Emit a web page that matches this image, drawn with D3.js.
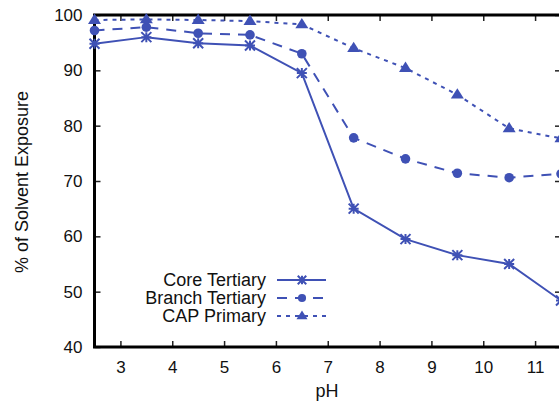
<!DOCTYPE html>
<html>
<head>
<meta charset="utf-8">
<script src="https://cdn.jsdelivr.net/npm/d3@7"></script>
<style>
  html, body { margin: 0; padding: 0; background: #fff; }
  svg { display: block; font-family: "Liberation Sans", Arial, sans-serif; }
</style>
</head>
<body>
<div id="chart"></div>
<script>
// data
const phValues = [2.5, 3.5, 4.5, 5.5, 6.5, 7.5, 8.5, 9.5, 10.5, 11.5]
const coreTertiary = [94.8, 96.0, 94.9, 94.5, 89.5, 65.0, 59.5, 56.6, 55.0, 48.4]
const branchTertiary = [97.2, 97.8, 96.7, 96.4, 93.0, 77.8, 74.0, 71.4, 70.6, 71.3]
const capPrimary = [99.1, 99.2, 99.1, 98.9, 98.3, 94.0, 90.4, 85.6, 79.5, 77.7]
const seriesNames = ["Core Tertiary", "Branch Tertiary", "CAP Primary"]
const xTicks = [3, 4, 5, 6, 7, 8, 9, 10, 11]
const yTicks = [40, 50, 60, 70, 80, 90, 100]

const width = 559, height = 402
const blue = "#3f51b5"
const margin = {top: 15, right: -2, bottom: 55, left: 94.5}

const svg = d3.select("#chart")
  .append("svg")
    .attr("width", width)
    .attr("height", height)

const x = d3.scaleLinear()
  .domain([2.5, 11.5])
  .range([margin.left, width - margin.right])
const y = d3.scaleLinear()
  .domain([40, 100])
  .range([height - margin.bottom, margin.top])

// tick marks point inward on all four sides (gnuplot style)
const tickLen = 6
const axes = svg.append("g")
axes.append("g")
  .attr("transform", `translate(0, ${y(40)})`)
  .call(d3.axisBottom(x).tickValues(xTicks).tickSizeInner(-tickLen).tickSizeOuter(0).tickPadding(14))
axes.append("g")
  .attr("transform", `translate(0, ${y(100)})`)
  .call(d3.axisTop(x).tickValues(xTicks).tickSizeInner(-tickLen).tickSizeOuter(0).tickFormat(""))
axes.append("g")
  .attr("transform", `translate(${x(2.5)}, 0)`)
  .call(d3.axisLeft(y).tickValues(yTicks).tickSizeInner(-tickLen).tickSizeOuter(0).tickPadding(12))
axes.append("g")
  .attr("transform", `translate(${x(11.5)}, 0)`)
  .call(d3.axisRight(y).tickValues(yTicks).tickSizeInner(-tickLen).tickSizeOuter(0).tickFormat(""))

axes.selectAll(".domain").remove()
axes.selectAll(".tick line").attr("stroke", "#222").attr("stroke-width", 1.5)
axes.selectAll(".tick text")
  .attr("font-size", 17)
  .attr("font-family", "Liberation Sans, Arial, sans-serif")
  .attr("fill", "#111")

// frame
svg.append("rect")
  .attr("x", x(2.5))
  .attr("y", y(100))
  .attr("width", x(11.5) - x(2.5))
  .attr("height", y(40) - y(100))
  .attr("fill", "none")
  .attr("stroke", "#000")
  .attr("stroke-width", 3)

// axis titles
svg.append("text")
  .attr("x", 327)
  .attr("y", 397)
  .attr("text-anchor", "middle")
  .attr("font-size", 18)
  .attr("fill", "#111")
  .text("pH")
svg.append("text")
  .attr("transform", `translate(28, ${182}) rotate(-90)`)
  .attr("text-anchor", "middle")
  .attr("font-size", 18)
  .attr("fill", "#111")
  .text("% of Solvent Exposure")

const series = [
  {name: seriesNames[0], values: coreTertiary, dash: null, marker: "star"},
  {name: seriesNames[1], values: branchTertiary, dash: "10,8", marker: "circle"},
  {name: seriesNames[2], values: capPrimary, dash: "4,5", marker: "triangle"}
]

function drawMarker(g, type, cx, cy, k = 1) {
  if (type === "star") {
    const r = 5 * k
    g.append("path")
      .attr("d", `M${cx - r},${cy}H${cx + r}M${cx},${cy - r}V${cy + r}` +
        `M${cx - r},${cy - r}L${cx + r},${cy + r}M${cx - r},${cy + r}L${cx + r},${cy - r}`)
      .attr("stroke", blue)
      .attr("stroke-width", 2)
      .attr("fill", "none")
  } else if (type === "circle") {
    g.append("circle")
      .attr("cx", cx).attr("cy", cy).attr("r", 4.8 * k)
      .attr("fill", blue)
  } else {
    const s = 6.5 * k
    g.append("path")
      .attr("d", `M${cx},${cy - s}L${cx + s},${cy + s * 0.6}L${cx - s},${cy + s * 0.6}Z`)
      .attr("fill", blue)
  }
}

const line = d3.line()
  .x((d, i) => x(phValues[i]))
  .y(d => y(d))

series.forEach(s => {
  svg.append("path")
    .datum(s.values)
    .attr("fill", "none")
    .attr("stroke", blue)
    .attr("stroke-width", 2)
    .attr("stroke-dasharray", s.dash)
    .attr("d", line)
  const g = svg.append("g")
  s.values.forEach((v, i) => drawMarker(g, s.marker, x(phValues[i]), y(v)))
})

// legend
const legend = svg.append("g")
series.forEach((s, i) => {
  const ly = 280 + i * 18
  legend.append("text")
    .attr("x", 266)
    .attr("y", ly)
    .attr("dy", "0.35em")
    .attr("text-anchor", "end")
    .attr("font-size", 18)
    .attr("fill", "#111")
    .text(s.name)
  legend.append("line")
    .attr("x1", 277).attr("x2", 326)
    .attr("y1", ly).attr("y2", ly)
    .attr("stroke", blue)
    .attr("stroke-width", 2)
    .attr("stroke-dasharray", s.dash)
  drawMarker(legend, s.marker, 302, ly, 0.85)
})
</script>
</body>
</html>
